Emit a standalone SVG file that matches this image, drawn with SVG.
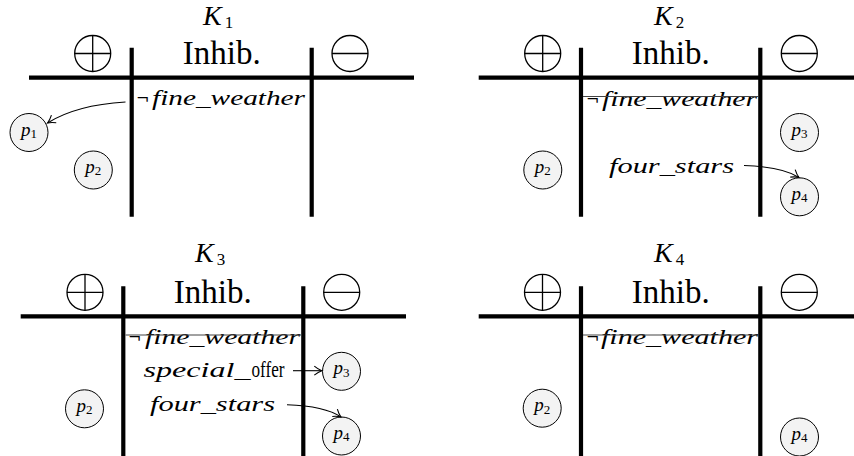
<svg xmlns="http://www.w3.org/2000/svg" width="854" height="456" viewBox="0 0 854 456">
  <style>
    text { font-family: "Liberation Serif", "DejaVu Serif", serif; fill: #000; }
    .bar { stroke: #000; stroke-width: 4.2; fill: none; }
    .sym { stroke: #000; stroke-width: 1.3; fill: #fff; }
    .node circle { fill: #f3f3f3; stroke: #000; stroke-width: 1; }
    .node text { font-style: italic; font-size: 19px; }
    .sub { font-style: normal; font-size: 13px; }
    .title { font-style: italic; font-size: 28px; }
    .tsub { font-style: normal; font-size: 17px; }
    .inhib { font-size: 33px; text-anchor: middle; }
    .fact { font-style: italic; font-size: 22px; }
    .neg { font-family: "DejaVu Serif", serif; font-size: 16px; }
    .roman { font-style: normal; font-size: 23px; }
    .strike { stroke: #444; stroke-width: 1; }
    .conn { fill: none; stroke: #000; stroke-width: 1.1; marker-end: url(#tip); }
  </style>
  <defs>
    <marker id="tip" markerUnits="userSpaceOnUse" markerWidth="14" markerHeight="14" viewBox="-9 -7 12 14" refX="0" refY="0" orient="auto">
      <path d="M-7.5,-4.5 C-4.5,-2 -1.5,-0.5 0,0 C-1.5,0.5 -4.5,2 -7.5,4.5" fill="none" stroke="#000" stroke-width="1.1"/>
    </marker>
    <!-- positive / negative markers -->
    <g id="oplus">
      <circle r="18" class="sym"/>
      <path d="M-18,0 H18 M0,-18 V18" stroke="#000" stroke-width="1.3"/>
    </g>
    <g id="ominus">
      <circle r="18" class="sym"/>
      <path d="M-18,0 H18" stroke="#000" stroke-width="1.3"/>
    </g>
  </defs>

  <!-- ===== K1 ===== -->
  <g id="k1">
    <text class="title" x="203" y="25">K<tspan class="tsub" dx="3" dy="2.5">1</tspan></text>
    <path class="bar" d="M29,77.7 H414 M131.7,47.7 V216.7 M311.7,47.7 V216.7"/>
    <use href="#oplus" x="92.7" y="53.5"/>
    <use href="#ominus" x="350" y="53.5"/>
    <text class="inhib" x="221.7" y="64.3">Inhib.</text>
    <text class="neg" x="136" y="104">¬</text>
    <text class="fact" x="152" y="105" textLength="153" lengthAdjust="spacingAndGlyphs">fine_weather</text>
    <g id="k1-p1" class="node"><circle cx="29" cy="132.5" r="19"/><text x="29" y="135.5" text-anchor="middle">p<tspan class="sub" dy="2.3">1</tspan></text></g>
    <g id="k1-p2" class="node"><circle cx="93.3" cy="170" r="19"/><text x="93.3" y="173" text-anchor="middle">p<tspan class="sub" dy="2.3">2</tspan></text></g>
  </g>

  <!-- ===== K2 ===== -->
  <g id="k2">
    <text class="title" x="654" y="25">K<tspan class="tsub" dx="3" dy="2.5">2</tspan></text>
    <path class="bar" d="M478.7,77.7 H854 M581,47.7 V216.7 M760.3,47.7 V216.7"/>
    <use href="#oplus" x="542.7" y="53.5"/>
    <use href="#ominus" x="799.3" y="53.5"/>
    <text class="inhib" x="670.7" y="64.3">Inhib.</text>
    <text class="neg" x="586" y="104.5">¬</text>
    <text class="fact" x="602" y="105.5" textLength="155" lengthAdjust="spacingAndGlyphs">fine_weather</text>
    <line class="strike" x1="583" y1="96.5" x2="758" y2="96.5"/>
    <text class="fact" x="609" y="173.3" textLength="125" lengthAdjust="spacingAndGlyphs">four_stars</text>
    <g id="k2-p2" class="node"><circle cx="542.8" cy="170" r="19"/><text x="542.8" y="173" text-anchor="middle">p<tspan class="sub" dy="2.3">2</tspan></text></g>
    <g id="k2-p3" class="node"><circle cx="799.5" cy="132.5" r="19"/><text x="799.5" y="135.5" text-anchor="middle">p<tspan class="sub" dy="2.3">3</tspan></text></g>
    <g id="k2-p4" class="node"><circle cx="799.5" cy="196.8" r="19"/><text x="799.5" y="199.8" text-anchor="middle">p<tspan class="sub" dy="2.3">4</tspan></text></g>
  </g>

  <!-- ===== K3 ===== -->
  <g id="k3">
    <text class="title" x="195" y="262">K<tspan class="tsub" dx="3" dy="2.5">3</tspan></text>
    <path class="bar" d="M20.7,316.3 H406 M123.3,286.3 V456 M303.3,286.3 V456"/>
    <use href="#oplus" x="85" y="292.3"/>
    <use href="#ominus" x="341.7" y="292.3"/>
    <text class="inhib" x="212.8" y="303">Inhib.</text>
    <text class="neg" x="128" y="343">¬</text>
    <text class="fact" x="145" y="344" textLength="155" lengthAdjust="spacingAndGlyphs">fine_weather</text>
    <line class="strike" x1="125.5" y1="335" x2="301.5" y2="335"/>
    <text class="fact" x="143.5" y="377.3"><tspan textLength="107" lengthAdjust="spacingAndGlyphs">special_</tspan><tspan class="roman" x="251.5" textLength="33" lengthAdjust="spacingAndGlyphs">offer</tspan></text>
    <text class="fact" x="150" y="411.3" textLength="125" lengthAdjust="spacingAndGlyphs">four_stars</text>
    <g id="k3-p2" class="node"><circle cx="84.5" cy="408.8" r="19"/><text x="84.5" y="411.8" text-anchor="middle">p<tspan class="sub" dy="2.3">2</tspan></text></g>
    <g id="k3-p3" class="node"><circle cx="341.5" cy="371.3" r="19"/><text x="341.5" y="374.3" text-anchor="middle">p<tspan class="sub" dy="2.3">3</tspan></text></g>
    <g id="k3-p4" class="node"><circle cx="341.5" cy="436" r="19"/><text x="341.5" y="439" text-anchor="middle">p<tspan class="sub" dy="2.3">4</tspan></text></g>
  </g>

  <!-- ===== K4 ===== -->
  <g id="k4">
    <text class="title" x="654" y="262">K<tspan class="tsub" dx="3" dy="2.5">4</tspan></text>
    <path class="bar" d="M478.7,316.3 H854 M581,286.3 V456 M760.3,286.3 V456"/>
    <use href="#oplus" x="542.5" y="292.3"/>
    <use href="#ominus" x="799.3" y="292.3"/>
    <text class="inhib" x="670.7" y="303">Inhib.</text>
    <text class="neg" x="586" y="343">¬</text>
    <text class="fact" x="601" y="344" textLength="157" lengthAdjust="spacingAndGlyphs">fine_weather</text>
    <line class="strike" x1="583" y1="335" x2="758" y2="335"/>
    <g id="k4-p2" class="node"><circle cx="542.2" cy="408.2" r="19"/><text x="542.2" y="411.2" text-anchor="middle">p<tspan class="sub" dy="2.3">2</tspan></text></g>
    <g id="k4-p4" class="node"><circle cx="799.5" cy="437" r="19"/><text x="799.5" y="440" text-anchor="middle">p<tspan class="sub" dy="2.3">4</tspan></text></g>
  </g>

  <!-- connectors -->
  <g id="connectors">
    <path class="conn" d="M125.5,102 Q76,105 47.5,123"/>
    <path class="conn" d="M744,165.5 Q783,167 799,177.5"/>
    <path class="conn" d="M293,370.7 L321.8,370.7"/>
    <path class="conn" d="M287,404.7 Q325,406 341,417"/>
  </g>
</svg>
